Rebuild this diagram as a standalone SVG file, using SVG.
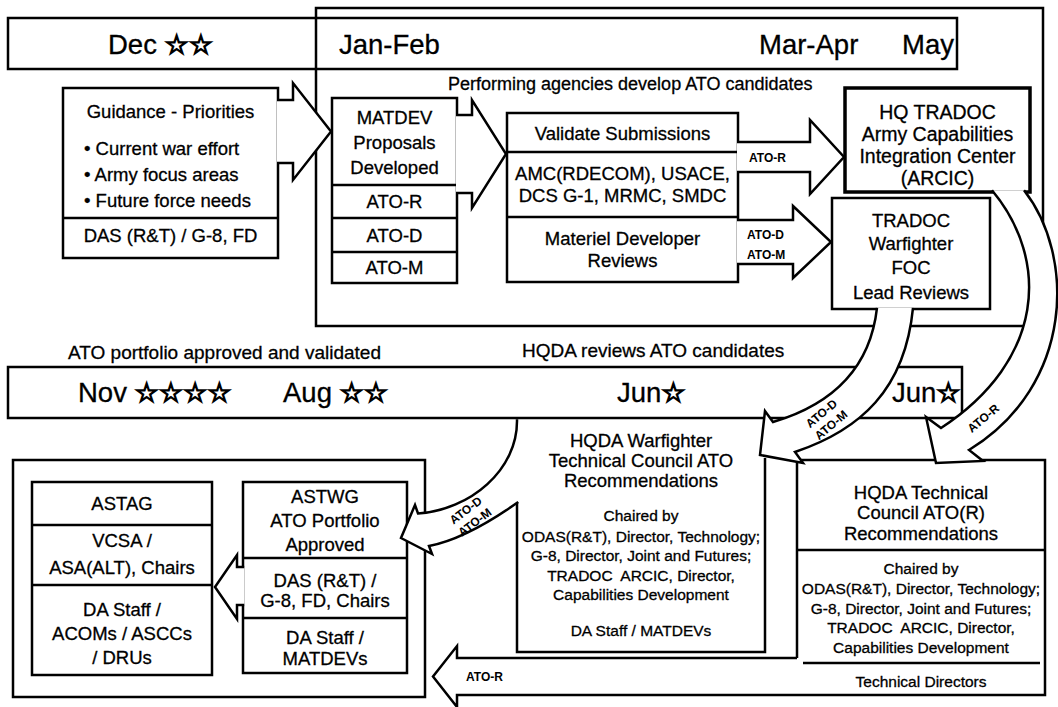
<svg xmlns="http://www.w3.org/2000/svg" width="1058" height="707" viewBox="0 0 1058 707">
<defs>
<style>
.frame{fill:none;stroke:#000;stroke-width:2.5}
.box{fill:#fff;stroke:#000;stroke-width:2.5}
.thick{stroke-width:3.5}
.ln{fill:none;stroke:#000;stroke-width:2.5}
.arr{fill:#fff;stroke:#000;stroke-width:2.5;stroke-linejoin:miter;stroke-miterlimit:10}
text{font-family:"Liberation Sans",Arial,Helvetica,sans-serif;fill:#000;stroke:#000;stroke-width:0.3}
.b{font-size:27.5px}
.m{font-size:18.5px}
.mm{font-size:19.5px}
.p{font-size:18px}
.c{font-size:19px}
.s{font-size:15.5px}
.l{font-size:12px;font-weight:bold;stroke-width:0}
.mid{text-anchor:middle}
.st{font-family:"DejaVu Sans",sans-serif;font-size:27px;stroke:#000;stroke-width:1.5}
</style>
</defs>
<rect x="0" y="0" width="1058" height="707" fill="#fff"/>

<g id="frame-top"><rect class="frame" x="316" y="8" width="727" height="318"/></g>

<g id="band-top">
<rect class="frame" x="8" y="18" width="949" height="51"/>
<text class="b" x="108" y="54">Dec <tspan class="st">☆☆</tspan></text>
<text class="b" x="339" y="54">Jan-Feb</text>
<text class="b" x="759" y="54">Mar-Apr</text>
<text class="b" x="902" y="54">May</text>
</g>

<g id="caption-performing"><text class="p" x="448" y="90">Performing agencies develop ATO candidates</text></g>

<g id="guidance">
<rect class="box" x="63" y="88" width="215" height="170"/>
<line class="ln" x1="63" y1="218" x2="278" y2="218"/>
<text class="m mid" x="170.5" y="117.5">Guidance - Priorities</text>
<text class="m" x="84" y="154.5">• Current war effort</text>
<text class="m" x="84" y="180.5">• Army focus areas</text>
<text class="m" x="84" y="206.5">• Future force needs</text>
<text class="m mid" x="170.5" y="241.5">DAS (R&amp;T) / G-8, FD</text>
</g>

<g id="matdev">
<rect class="box" x="332" y="98" width="125" height="185"/>
<line class="ln" x1="332" y1="185" x2="457" y2="185"/>
<line class="ln" x1="332" y1="218" x2="457" y2="218"/>
<line class="ln" x1="332" y1="252" x2="457" y2="252"/>
<text class="m mid" x="394.5" y="124">MATDEV</text>
<text class="m mid" x="394.5" y="149">Proposals</text>
<text class="m mid" x="394.5" y="174">Developed</text>
<text class="m mid" x="394.5" y="208">ATO-R</text>
<text class="m mid" x="394.5" y="241.5">ATO-D</text>
<text class="m mid" x="394.5" y="274">ATO-M</text>
</g>

<g id="validate">
<rect class="box" x="507" y="113" width="231" height="169"/>
<line class="ln" x1="507" y1="152" x2="738" y2="152"/>
<line class="ln" x1="507" y1="217" x2="738" y2="217"/>
<text class="m mid" x="622.5" y="140">Validate Submissions</text>
<text class="m mid" x="622.5" y="179.5">AMC(RDECOM), USACE,</text>
<text class="m mid" x="622.5" y="201.5">DCS G-1, MRMC, SMDC</text>
<text class="m mid" x="622.5" y="244.5">Materiel Developer</text>
<text class="m mid" x="622.5" y="266.5">Reviews</text>
</g>

<g id="hq-tradoc">
<rect class="box thick" x="845" y="88" width="185" height="104"/>
<text class="mm mid" x="937.5" y="118.5">HQ TRADOC</text>
<text class="mm mid" x="937.5" y="140.5">Army Capabilities</text>
<text class="mm mid" x="937.5" y="162.5">Integration Center</text>
<text class="mm mid" x="937.5" y="184.5">(ARCIC)</text>
</g>

<g id="tradoc-foc">
<rect class="box" x="832" y="198" width="158" height="111"/>
<text class="m mid" x="911" y="226.5">TRADOC</text>
<text class="m mid" x="911" y="249.5">Warfighter</text>
<text class="m mid" x="911" y="273.5">FOC</text>
<text class="m mid" x="911" y="298.5">Lead Reviews</text>
</g>

<g id="captions-lower">
<text class="c" x="68" y="358.8">ATO portfolio approved and validated</text>
<text class="c" x="522" y="356.8">HQDA reviews ATO candidates</text>
</g>

<g id="band-bottom">
<rect class="frame" x="8" y="367" width="954" height="51"/>
<text class="b" x="78" y="402">Nov <tspan class="st">☆☆☆☆</tspan></text>
<text class="b" x="283" y="402">Aug <tspan class="st">☆☆</tspan></text>
<text class="b" x="617" y="402">Jun<tspan class="st">☆</tspan></text>
<text class="b" x="892" y="402">Jun<tspan class="st">☆</tspan></text>
</g>

<g id="portfolio">
<rect class="frame" x="13" y="460" width="412" height="237"/>
</g>

<g id="astag">
<rect class="box" x="32" y="482" width="180" height="193"/>
<line class="ln" x1="32" y1="525" x2="212" y2="525"/>
<line class="ln" x1="32" y1="585" x2="212" y2="585"/>
<text class="m mid" x="122" y="509.5">ASTAG</text>
<text class="m mid" x="122" y="546.5">VCSA /</text>
<text class="m mid" x="122" y="573.5">ASA(ALT), Chairs</text>
<text class="m mid" x="122" y="616">DA Staff /</text>
<text class="m mid" x="122" y="640">ACOMs / ASCCs</text>
<text class="m mid" x="122" y="664">/ DRUs</text>
</g>

<g id="astwg">
<rect class="box" x="243" y="482" width="164" height="191"/>
<line class="ln" x1="243" y1="558" x2="407" y2="558"/>
<line class="ln" x1="243" y1="618" x2="407" y2="618"/>
<text class="m mid" x="325" y="502.5">ASTWG</text>
<text class="m mid" x="325" y="526.5">ATO Portfolio</text>
<text class="m mid" x="325" y="550.5">Approved</text>
<text class="m mid" x="325" y="586.5">DAS (R&amp;T) /</text>
<text class="m mid" x="325" y="606.5">G-8, FD, Chairs</text>
<text class="m mid" x="325" y="643.5">DA Staff /</text>
<text class="m mid" x="325" y="664.5">MATDEVs</text>
</g>

<g id="hqda-warfighter">
<path class="ln" d="M517,502 V652 H765 V458"/>
<text class="m mid" x="641" y="446.5">HQDA Warfighter</text>
<text class="m mid" x="641" y="466.5">Technical Council ATO</text>
<text class="m mid" x="641" y="486.5">Recommendations</text>
<text class="s mid" x="641" y="520.5">Chaired by</text>
<text class="s mid" x="641" y="541.5">ODAS(R&amp;T), Director, Technology;</text>
<text class="s mid" x="641" y="561">G-8, Director, Joint and Futures;</text>
<text class="s mid" x="641" y="580.5" xml:space="preserve">TRADOC  ARCIC, Director,</text>
<text class="s mid" x="641" y="599.5">Capabilities Development</text>
<text class="s mid" x="641" y="635.5">DA Staff / MATDEVs</text>
</g>

<g id="hqda-technical">
<path class="ln" d="M797,658 V460 H1045 V695 H797"/>
<line class="ln" x1="797" y1="550" x2="1045" y2="550"/>
<line class="ln" x1="803" y1="663" x2="1040" y2="663"/>
<text class="m mid" x="921" y="498.5">HQDA Technical</text>
<text class="m mid" x="921" y="519">Council ATO(R)</text>
<text class="m mid" x="921" y="539.5">Recommendations</text>
<text class="s mid" x="921" y="573.5">Chaired by</text>
<text class="s mid" x="921" y="593.5">ODAS(R&amp;T), Director, Technology;</text>
<text class="s mid" x="921" y="613.5">G-8, Director, Joint and Futures;</text>
<text class="s mid" x="921" y="632.5" xml:space="preserve">TRADOC  ARCIC, Director,</text>
<text class="s mid" x="921" y="652.5">Capabilities Development</text>
<text class="s mid" x="921" y="686.5">Technical Directors</text>
</g>

<g id="connectors">
<path class="arr" d="M277,100 H293 V83 L331,131.5 L293,180 V163 H277"/>
<path class="arr" d="M456,115 H472 V100 L506,154 L472,208 V193 H456"/>
<path class="arr" d="M737,142 H810 V120 L844,157 L810,194 V172 H737"/>
<path class="arr" d="M737,220 H793 V206 L831,242 L793,278 V264 H737"/>
<path class="arr" d="M877,307.8 C870,370 830,405 773,422 L765,411 L760,455 L803,463 L795,452 C860,430 905,390 913,307.8"/>
<path class="arr" d="M992,190.3 C1050,260 1045,360 941,428 L926,417 L936,463 L983,461 L969,450 C1075,385 1075,255 1024,190.3"/>
<path class="arr" d="M517,419.3 C518,470 470,510 418,513.5 L415,505 L401,538 L432,554 L429,546 C460,540 490,522 518.2,502"/>
<path class="arr" d="M797,658 H457 V646 L433,676.5 L457,707 V695 H797"/>
<path class="arr" d="M244.2,567 H237 V555 L215,587 L237,619 V605 H244.2"/>
<text class="l" x="749" y="161.5">ATO-R</text>
<text class="l" x="747" y="239">ATO-D</text>
<text class="l" x="747" y="259">ATO-M</text>
<text class="l" x="466" y="681">ATO-R</text>
<g transform="translate(826,419) rotate(-40)">
<text class="l mid" x="0" y="-3">ATO-D</text>
<text class="l mid" x="0" y="12">ATO-M</text>
</g>
<g transform="translate(983,418) rotate(-40)"><text class="l mid" x="0" y="4.5">ATO-R</text></g>
<g transform="translate(470,516) rotate(-37)">
<text class="l mid" x="0" y="-3">ATO-D</text>
<text class="l mid" x="0" y="12">ATO-M</text>
</g>
</g>
</svg>
